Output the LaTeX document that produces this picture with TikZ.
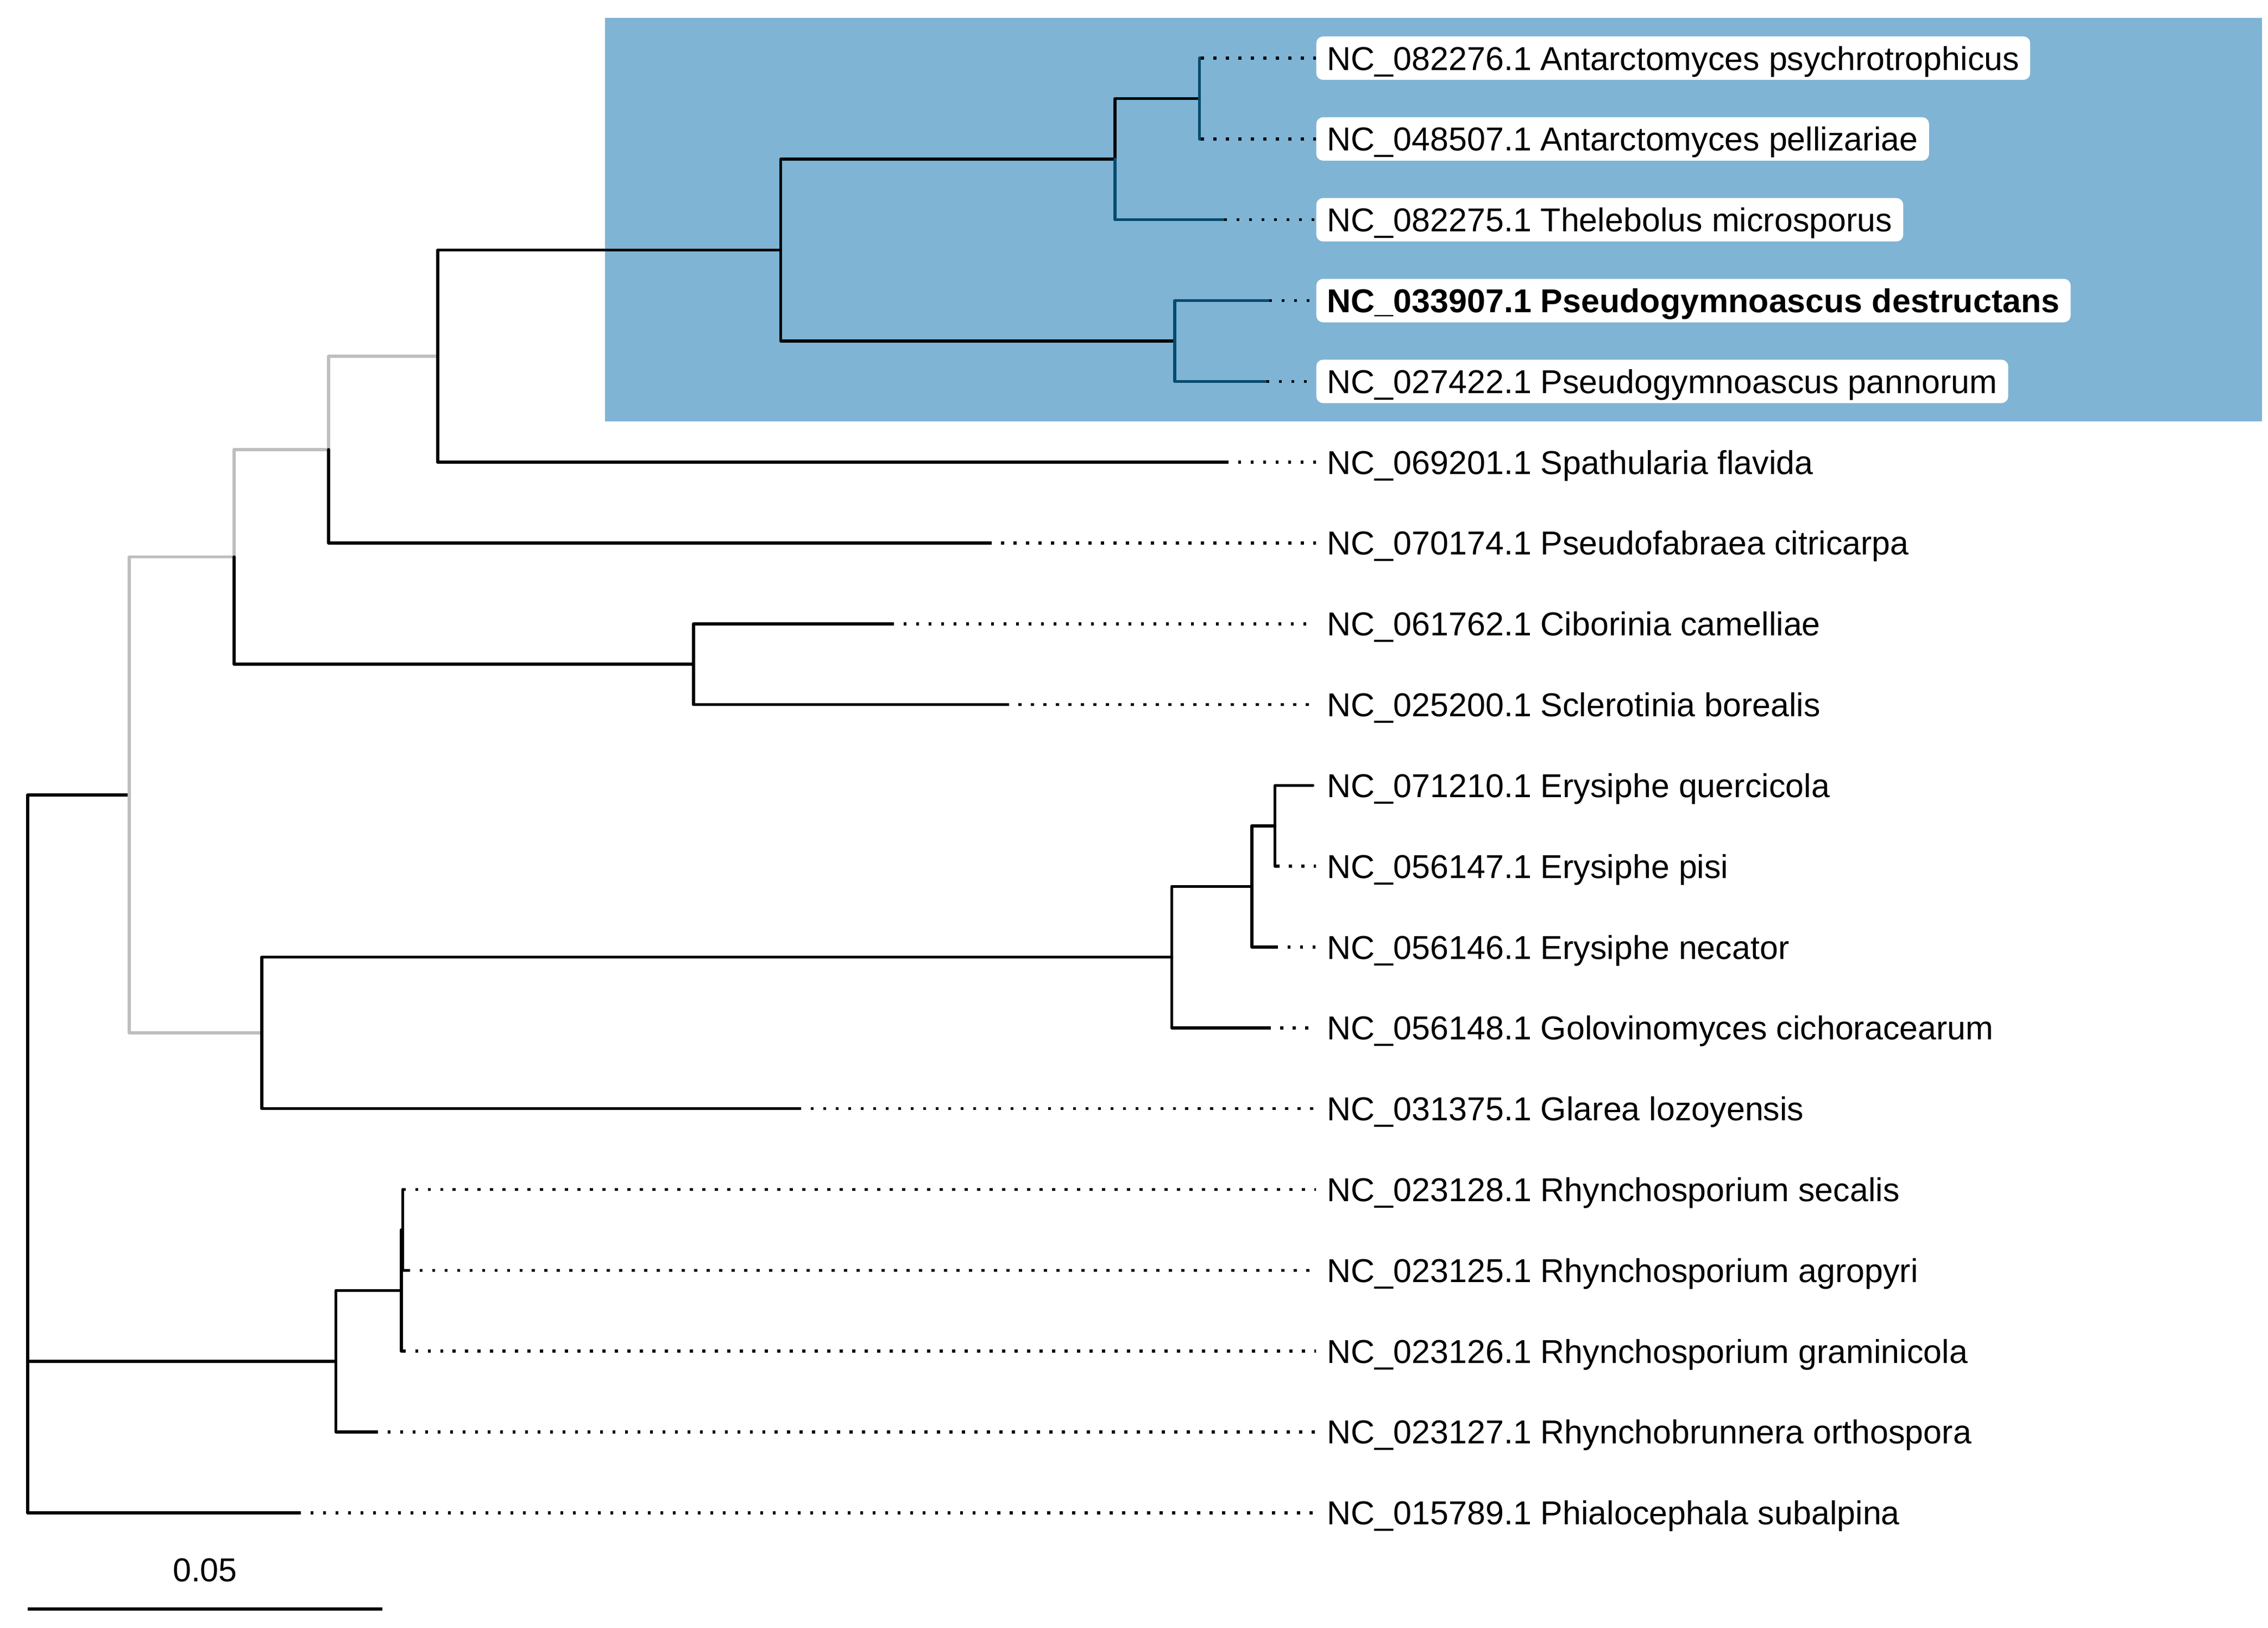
\documentclass[tikz,border=0pt]{standalone}
\usepackage{fontspec}
\setmainfont{Liberation Sans}
\usepackage{tikz}
\usetikzlibrary{positioning}
\definecolor{cladebg}{HTML}{7FB4D4}
\definecolor{tipblue}{HTML}{004B6E}
\definecolor{basegrey}{HTML}{BEBEBE}

\begin{document}
\begin{tikzpicture}
	[x=0.5355pt, y=-29.77pt,
	every node/.style={font=\fontsize{12.2}{14}\selectfont, inner xsep=4pt, inner ysep=2.1pt, text height=10.3pt, text depth=1.5pt},
	branch/.style={line width=1.1pt, line cap=round, line join=round},
	tipline/.style={line width=1.1pt, dash pattern=on 1.1pt off 3.5pt},
	taxon/.style={anchor=west},
	boxed/.style={anchor=west, fill=white, rounded corners=2.5pt}]
	\useasboundingbox (0,-0.7194) rectangle (1560,19.424);

	% highlighted clade
	\fill[cladebg] (416,-0.5) rectangle (1556,4.496);

	% inner nodes of the tree
	\coordinate (root) at (19,12);
	\coordinate (nA) at (89,9.1172);
	\coordinate (nA1) at (161,6.1719);
	\coordinate (nA11) at (226,4.8438);
	\coordinate (nA111) at (301,3.6875);
	\coordinate (nH) at (537,2.375);
	\coordinate (nH1) at (767,1.25);
	\coordinate (nH11) at (825,0.5);
	\coordinate (nH2) at (808,3.5);
	\coordinate (nA12) at (477,7.5);
	\coordinate (nA2) at (180,12.0625);
	\coordinate (nE) at (806,11.125);
	\coordinate (nE1) at (861,10.25);
	\coordinate (nE11) at (877,9.5);
	\coordinate (nB) at (231,16.125);
	\coordinate (nB1) at (276,15.25);
	\coordinate (nB11) at (277,14.5);

	% tips
	\coordinate (t0) at (826,0);
	\coordinate (t1) at (826,1);
	\coordinate (t2) at (842,2);
	\coordinate (t3) at (873,3);
	\coordinate (t4) at (871,4);
	\coordinate (t5) at (843,5);
	\coordinate (t6) at (680,6);
	\coordinate (t7) at (613,7);
	\coordinate (t8) at (692,8);
	\coordinate (t9) at (903,9);
	\coordinate (t10) at (878,10);
	\coordinate (t11) at (877,11);
	\coordinate (t12) at (872,12);
	\coordinate (t13) at (549,13);
	\coordinate (t14) at (277,14);
	\coordinate (t15) at (280,15);
	\coordinate (t16) at (277,16);
	\coordinate (t17) at (258,17);
	\coordinate (t18) at (205,18);

	% labels
	\node[boxed] (l0) at (905,0) {NC\_082276.1 Antarctomyces psychrotrophicus};
	\node[boxed] (l1) at (905,1) {NC\_048507.1 Antarctomyces pellizariae};
	\node[boxed] (l2) at (905,2) {NC\_082275.1 Thelebolus microsporus};
	\node[boxed] (l3) at (905,3) {\bfseries NC\_033907.1 Pseudogymnoascus destructans};
	\node[boxed] (l4) at (905,4) {NC\_027422.1 Pseudogymnoascus pannorum};
	\node[taxon] (l5) at (905,5) {NC\_069201.1 Spathularia flavida};
	\node[taxon] (l6) at (905,6) {NC\_070174.1 Pseudofabraea citricarpa};
	\node[taxon] (l7) at (905,7) {NC\_061762.1 Ciborinia camelliae};
	\node[taxon] (l8) at (905,8) {NC\_025200.1 Sclerotinia borealis};
	\node[taxon] (l9) at (905,9) {NC\_071210.1 Erysiphe quercicola};
	\node[taxon] (l10) at (905,10) {NC\_056147.1 Erysiphe pisi};
	\node[taxon] (l11) at (905,11) {NC\_056146.1 Erysiphe necator};
	\node[taxon] (l12) at (905,12) {NC\_056148.1 Golovinomyces cichoracearum};
	\node[taxon] (l13) at (905,13) {NC\_031375.1 Glarea lozoyensis};
	\node[taxon] (l14) at (905,14) {NC\_023128.1 Rhynchosporium secalis};
	\node[taxon] (l15) at (905,15) {NC\_023125.1 Rhynchosporium agropyri};
	\node[taxon] (l16) at (905,16) {NC\_023126.1 Rhynchosporium graminicola};
	\node[taxon] (l17) at (905,17) {NC\_023127.1 Rhynchobrunnera orthospora};
	\node[taxon] (l18) at (905,18) {NC\_015789.1 Phialocephala subalpina};

	% branches
	\draw[branch] (root) |- (nA);
	\draw[branch] (root) |- (nB);
	\draw[branch] (root) |- (t18);
	\draw[branch, basegrey] (nA) |- (nA1);
	\draw[branch, basegrey] (nA) |- (nA2);
	\draw[branch, basegrey] (nA1) |- (nA11);
	\draw[branch] (nA1) |- (nA12);
	\draw[branch, basegrey] (nA11) |- (nA111);
	\draw[branch] (nA11) |- (t6);
	\draw[branch] (nA111) |- (nH);
	\draw[branch] (nA111) |- (t5);
	\draw[branch] (nH) |- (nH1);
	\draw[branch] (nH) |- (nH2);
	\draw[branch] (nH1) |- (nH11);
	\draw[branch, tipblue] (nH1) |- (t2);
	\draw[branch, tipblue] (nH11) |- (t0);
	\draw[branch, tipblue] (nH11) |- (t1);
	\draw[branch, tipblue] (nH2) |- (t3);
	\draw[branch, tipblue] (nH2) |- (t4);
	\draw[branch] (nA12) |- (t7);
	\draw[branch] (nA12) |- (t8);
	\draw[branch] (nA2) |- (nE);
	\draw[branch] (nA2) |- (t13);
	\draw[branch] (nE) |- (nE1);
	\draw[branch] (nE) |- (t12);
	\draw[branch] (nE1) |- (nE11);
	\draw[branch] (nE1) |- (t11);
	\draw[branch] (nE11) |- (t9);
	\draw[branch] (nE11) |- (t10);
	\draw[branch] (nB) |- (nB1);
	\draw[branch] (nB) |- (t17);
	\draw[branch] (nB1) |- (nB11);
	\draw[branch] (nB1) |- (t16);
	\draw[branch] (nB11) |- (t14);
	\draw[branch] (nB11) |- (t15);

	% tips to labels
	\foreach \i in {0,...,8,10,11,...,18}
		\draw[tipline] (t\i) -- (l\i.west);

	% scale bar
	\coordinate (sb0) at (19,19.19);
	\coordinate (sb1) at (263,19.19);
	\draw[line width=1.1pt] (sb0) -- (sb1);
	\node (sblabel) at (141,18.705) {0.05};
\end{tikzpicture}
\end{document}
